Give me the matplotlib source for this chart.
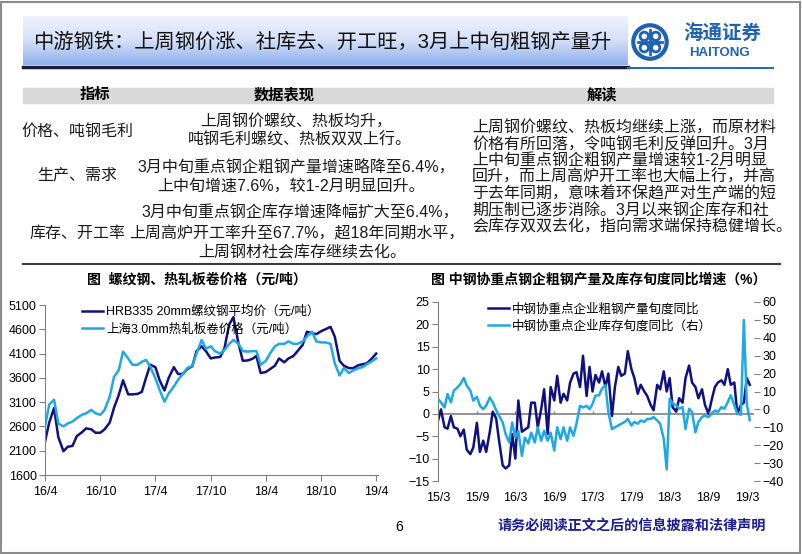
import numpy as np
import pandas as pd
import matplotlib
matplotlib.use('Agg')
import matplotlib.pyplot as plt
from matplotlib.patches import Rectangle, Circle
from matplotlib.lines import Line2D
from matplotlib.colors import LinearSegmentedColormap

# ---- data ----
# left chart: semi-monthly from 2016-04
rebar_price = [2290, 2680, 2980, 2380, 2090, 2180, 2200, 2400, 2480, 2560,
               2540, 2470, 2470, 2540, 2680, 2980, 3250, 3550, 3260, 3260,
               3270, 3310, 3600, 3870, 3820, 3550, 3340, 3600, 3820, 3680,
               3680, 3780, 3840, 4150, 4250, 4150, 4000, 4020, 4030, 4200,
               4700, 4850, 4300, 3950, 3960, 3990, 4050, 3700, 3720, 3780,
               3850, 4000, 3920, 4000, 4050, 4150, 4280, 4550, 4520, 4500,
               4560, 4600, 4650, 4450, 3950, 3850, 3800, 3800, 3860, 3880,
               3900, 3980, 4100]
hot_coil_price = [2600, 3050, 3150, 2660, 2600, 2660, 2700, 2770, 2840, 2870,
                  2940, 2870, 2840, 2940, 3210, 3620, 3760, 4140, 4000, 3870,
                  3870, 3930, 3970, 3830, 3590, 3350, 3110, 3280, 3420, 3560,
                  3680, 3800, 3850, 4100, 4380, 4200, 4250, 4150, 4100, 4170,
                  4300, 4380, 4300, 4150, 4140, 4150, 4150, 3870, 3950, 4100,
                  4250, 4300, 4300, 4350, 4300, 4300, 4350, 4450, 4550, 4350,
                  4330, 4330, 4300, 3900, 3650, 3800, 3700, 3750, 3800, 3820,
                  3880, 3930, 4000]
left_ticks = ['2016-04-01', '2016-10-01', '2017-04-01', '2017-10-01',
              '2018-04-01', '2018-10-01', '2019-04-01']
left_labels = ['16/4', '16/10', '17/4', '17/10', '18/4', '18/10', '19/4']

# right chart: semi-monthly from 2015-03
output_yoy = [-1.5, 1.0, -3.0, -3.3, -0.5, -3.0, -3.3, -5.0, -3.5, -8.0,
              -9.0, -7.5, -2.0, -8.5, -6.0, -8.5, -4.0, 0.5, -1.0, -6.0,
              -11.5, -12.2, -11.5, -4.5, -10.0, 3.0, -4.0, -3.5, -3.0, 2.5,
              2.5, -3.0, 1.0, 5.5, -4.5, 6.0, 3.0, 8.5, 2.5, 4.5,
              3.0, 7.0, 9.0, 9.3, 6.0, 13.0, 4.0, 10.5, 5.0, 8.7,
              7.0, 9.5, 6.0, 9.0, -0.5, 6.0, 10.5, 8.5, 9.0, 14.0,
              10.0, 8.0, 4.5, 6.5, 5.0, 4.0, 2.0, 0.8, 6.5, 5.5,
              9.5, 5.0, 8.0, 1.5, 0.5, 3.5, 2.5, 8.0, 10.8, 7.0,
              6.0, 3.5, 5.5, 2.0, 0.0, 3.0, 6.0, 7.0, 7.5, 6.5,
              10.0, 6.5, 7.0, 0.0, 2.0, 2.5, 8.0, 6.5]
stock_yoy = [5.8, 3.9, 1.1, 8.6, 3.9, 10.5, 12.3, 14.2, 17.6, 13.3,
             10.5, 4.9, 7.1, 2.1, 0.2, 2.1, 6.7, 3.9, -0.4, -3.6,
             -7.3, -13.8, -18.5, -7.3, -15.7, -12.0, -26.0, -15.7, -19.0, -13.0,
             -18.5, -10.0, -17.5, -12.0, -17.5, -13.0, -23.0, -10.0, -16.6, -10.0,
             -17.5, -10.0, -14.8, -8.0, 2.0, 1.1, 2.0, 0.2, 3.0, 7.7,
             7.9, 11.7, 13.5, -1.5, -11.0, -10.0, -9.0, -8.0, -7.0, -5.3,
             -9.0, -7.0, -8.0, -6.2, -7.0, -5.3, -5.3, -4.3, -6.2, -8.0,
             -16.5, -33.5, 6.0, 3.2, 2.3, 0.4, 1.3, -11.0, 0.4, -1.5,
             -12.8, -7.0, -4.3, -3.4, -4.3, -2.4, -0.6, -1.5, 1.3, 0.4,
             4.1, 7.9, 2.3, -2.4, -3.0, 50.0, 3.0, -6.0]
right_ticks = ['2015-03-01', '2015-09-01', '2016-03-01', '2016-09-01', '2017-03-01',
               '2017-09-01', '2018-03-01', '2018-09-01', '2019-03-01']
right_labels = ['15/3', '15/9', '16/3', '16/9', '17/3', '17/9', '18/3', '18/9', '19/3']

row_labels = ['价格、吨钢毛利', '生产、需求', '库存、开工率']
row_data = [['上周钢价螺纹、热板均升，', '吨钢毛利螺纹、热板双双上行。'],
            ['3月中旬重点钢企粗钢产量增速略降至6.4%，', '上中旬增速7.6%，较1-2月明显回升。'],
            ['3月中旬重点钢企库存增速降幅扩大至6.4%，', '上周高炉开工率升至67.7%，超18年同期水平，',
             '上周钢材社会库存继续去化。']]
comment_lines = ['上周钢价螺纹、热板均继续上涨，而原材料',
                 '价格有所回落，令吨钢毛利反弹回升。3月',
                 '上中旬重点钢企粗钢产量增速较1-2月明显',
                 '回升，而上周高炉开工率也大幅上行，并高',
                 '于去年同期，意味着环保趋严对生产端的短',
                 '期压制已逐步消除。3月以来钢企库存和社',
                 '会库存双双去化，指向需求端保持稳健增长。']

plt.rcParams['font.family'] = ['Liberation Sans', 'Noto Sans CJK SC']

W, H = 802, 554
DARK = '#10107f'
LIGHT = '#1ea8e4'
GREY = '#808080'
LOGO = '#1f62b3'


def fx(x):
    return x / W


def fy(y):
    return 1 - y / H


def box(x0, y0, x1, y1):
    return [fx(x0), fy(y1), fx(x1) - fx(x0), fy(y0) - fy(y1)]


fig = plt.figure(figsize=(W / 100, H / 100), dpi=100)
fig.patches.append(Rectangle((0.001, 0.002), 0.996, 0.995, transform=fig.transFigure,
                             fill=False, edgecolor='#8c8c8c', lw=1.5))

# header band with gradient
band = fig.add_axes(box(23, 16, 628, 65))
cmap = LinearSegmentedColormap.from_list('band', ['#eef2fd', '#d5e0f8', '#8fb0ee'])
band.imshow(np.linspace(0, 1, 64).reshape(-1, 1), aspect='auto', cmap=cmap, extent=[0, 1, 0, 1])
band.axis('off')
fig.add_artist(Line2D([fx(23), fx(628)], [fy(67), fy(67)], color='#1b1b3c', lw=2.5))
fig.add_artist(Line2D([fx(628), fx(773)], [fy(68), fy(68)], color='#2b6cb5', lw=1.5))
fig.text(fx(33), fy(42), '中游钢铁：上周钢价涨、社库去、开工旺，3月上中旬粗钢产量升',
         fontsize=14.6, va='center', ha='left', color='#111111')

# logo
lg = fig.add_axes(box(631, 23, 669, 61))
lg.set_xlim(-1, 1)
lg.set_ylim(-1, 1)
lg.set_aspect('equal')
lg.axis('off')
lg.add_patch(Circle((0, 0), 0.88, fill=False, lw=3, ec=LOGO))
for sx, sy in [(1, 1), (1, -1), (-1, 1), (-1, -1)]:
    lg.add_patch(Circle((0.3 * sx, 0.3 * sy), 0.22, fill=False, lw=2, ec=LOGO))
lg.plot([-0.62, 0.62], [0, 0], color=LOGO, lw=2)
lg.plot([0, 0], [-0.62, 0.62], color=LOGO, lw=2)
fig.text(fx(722), fy(34), '海通证券', fontsize=14, color=LOGO, ha='center', va='center',
         fontweight='bold', style='italic')
fig.text(fx(720), fy(53), 'HAITONG', fontsize=9.5, color=LOGO, ha='center', va='center',
         fontweight='bold')

# table
fig.patches.append(Rectangle((fx(23), fy(103)), fx(773) - fx(23), fy(88) - fy(103),
                             transform=fig.transFigure, color='#d9d9d9', zorder=0))
for txt, x in [('指标', 95), ('数据表现', 284), ('解读', 602)]:
    fig.text(fx(x), fy(95), txt, fontsize=11, fontweight='bold', ha='center', va='center')
fig.add_artist(Line2D([fx(23), fx(780)], [fy(264), fy(264)], color='#3a3a3a', lw=1.5))

body = dict(fontsize=11.5, va='center', color='#1a1a1a')
for txt, y in zip(row_labels, [131, 175, 233]):
    fig.text(fx(77), fy(y), txt, ha='center', **body)
data_pos = [[(296, 122), (300, 140)],
            [(296, 167), (291, 186)],
            [(300, 213), (297, 233), (302, 253)]]
for lines, pos in zip(row_data, data_pos):
    for txt, (x, y) in zip(lines, pos):
        fig.text(fx(x), fy(y), txt, ha='center', **body)
for i, txt in enumerate(comment_lines):
    fig.text(fx(472), fy(128 + i * 16.5), txt, ha='left', **body)

# chart titles
fig.text(fx(197), fy(280), '图  螺纹钢、热轧板卷价格（元/吨）', fontsize=10, fontweight='bold',
         ha='center', va='center')
fig.text(fx(599), fy(280), '图 中钢协重点钢企粗钢产量及库存旬度同比增速（%）', fontsize=10,
         fontweight='bold', ha='center', va='center')

# left chart
ax1 = fig.add_axes(box(45, 305, 378, 475))
d1 = pd.date_range('2016-04-01', periods=len(rebar_price), freq='SMS')
ax1.plot(d1, rebar_price, color=DARK, lw=1.8, label='HRB335 20mm螺纹钢平均价（元/吨）')
ax1.plot(d1, hot_coil_price, color=LIGHT, lw=1.8, label='上海3.0mm热轧板卷价格（元/吨）')
ax1.set_ylim(1600, 5100)
ax1.set_yticks(range(1600, 5101, 500))
ax1.set_xlim(pd.Timestamp('2016-04-01'), pd.Timestamp('2019-04-07'))
ax1.set_xticks(pd.to_datetime(left_ticks))
ax1.set_xticklabels(left_labels)
for s in ['top', 'right']:
    ax1.spines[s].set_visible(False)
for s in ['left', 'bottom']:
    ax1.spines[s].set_color(GREY)
ax1.tick_params(colors=GREY, labelcolor='black', labelsize=9, length=4, direction='out')
ax1.tick_params(axis='x', pad=4)
ax1.tick_params(axis='y', pad=2)
ax1.legend(loc='upper left', bbox_to_anchor=(0.111, 0.995), frameon=False, fontsize=9,
           handlelength=1.7, handletextpad=0.25, labelspacing=0.4, borderpad=0,
           borderaxespad=0)

# right chart
ax2 = fig.add_axes(box(438, 302, 754, 481))
ax3 = ax2.twinx()
d2 = pd.date_range('2015-03-01', periods=len(output_yoy), freq='SMS')
l1, = ax2.plot(d2, output_yoy, color=DARK, lw=1.8, label='中钢协重点企业粗钢产量旬度同比')
l2, = ax3.plot(d2, stock_yoy, color=LIGHT, lw=1.8, label='中钢协重点企业库存旬度同比（右）')
ax2.set_ylim(-15, 25)
ax2.set_yticks(range(-15, 26, 5))
ax3.set_ylim(-40, 60)
ax3.set_yticks(range(-40, 61, 10))
ax2.set_xlim(pd.Timestamp('2015-03-01'), pd.Timestamp('2019-04-04'))
rt = pd.to_datetime(right_ticks)
ax2.set_xticks(rt)
ax2.set_xticklabels(right_labels)
ax2.axhline(0, color=GREY, lw=1.2, zorder=1)
ax2.vlines(rt[1:], 0, 0.7, color=GREY, lw=1)
for s in ['top', 'right', 'bottom']:
    ax2.spines[s].set_visible(False)
    ax3.spines[s].set_visible(False)
ax3.spines['left'].set_visible(False)
ax2.spines['left'].set_color(GREY)
ax3.spines['right'].set_color(GREY)
ax2.tick_params(axis='y', colors=GREY, labelcolor='black', labelsize=9, length=4, pad=2)
ax3.tick_params(axis='y', colors=GREY, labelcolor='black', labelsize=9, length=4, pad=2)
ax2.tick_params(axis='x', length=0, labelsize=9, pad=8)
ax3.legend(handles=[l1, l2], loc='upper left', bbox_to_anchor=(0.158, 0.992), frameon=False,
           fontsize=9, handlelength=1.7, handletextpad=0.25, labelspacing=0.35, borderpad=0,
           borderaxespad=0)

# footer
fig.text(fx(399), fy(527), '6', fontsize=10, ha='center', va='center')
fig.text(fx(497), fy(527), '请务必阅读正文之后的信息披露和法律声明', fontsize=10.2, color='#1c1c96',
         fontweight='bold', ha='left', va='center')

fig.savefig('out.png', dpi=100)
